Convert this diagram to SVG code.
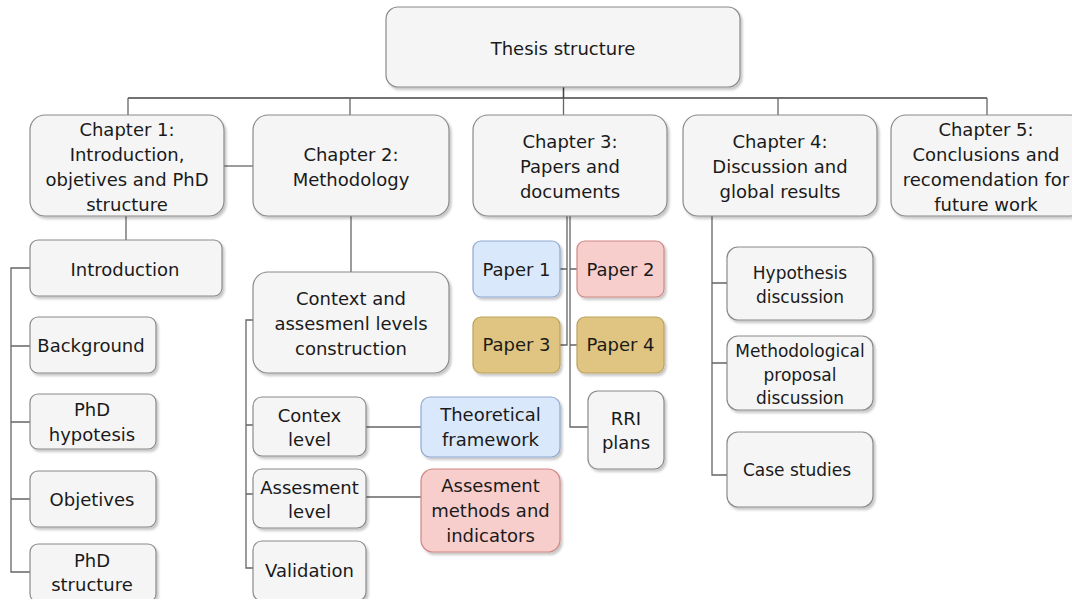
<svg xmlns="http://www.w3.org/2000/svg" width="1072" height="599" viewBox="0 0 1072 599">
  <defs>
    <filter id="shadow" x="-10%" y="-10%" width="130%" height="130%">
      <feDropShadow dx="2" dy="2.5" stdDeviation="1.2" flood-color="#000" flood-opacity="0.22"/>
    </filter>
    <style>
      .box { fill: #f5f5f5; stroke: #8a8a8a; stroke-width: 1.2; filter: url(#shadow); }
      .blue { fill: #dae8fc; stroke: #8fa9d2; stroke-width: 1.2; filter: url(#shadow); }
      .pink { fill: #f8cecc; stroke: #cf8683; stroke-width: 1.2; filter: url(#shadow); }
      .tan { fill: #dfc581; stroke: #bba15b; stroke-width: 1.2; filter: url(#shadow); }
      text { font-family: "DejaVu Sans", Verdana, sans-serif; font-size: 18px; fill: #1a1a1a; text-anchor: middle; }
      .sm { font-size: 17px; }
      .wire { fill: none; stroke: #666; stroke-width: 1.3; }
      .bus { fill: none; stroke: #444; stroke-width: 1.5; }
    </style>
  </defs>

  <rect width="1072" height="599" fill="#ffffff"/>

  <!-- connectors -->
  <g id="connectors">
    <!-- root to chapters -->
    <path class="bus" d="M563.5 87 V98 M128 98 H987"/>
    <path class="wire" d="M128 98 V115 M350 98 V115 M563.5 98 V115 M778 98 V115 M987 98 V115"/>
    <!-- chapter 1 to chapter 2 -->
    <path class="wire" d="M224 166 H253"/>
    <!-- chapter 1 children -->
    <path class="wire" d="M126 216 V240"/>
    <path class="wire" d="M30 268 H11 V572 H30 M11 346 H30 M11 422 H30 M11 499 H30"/>
    <!-- chapter 2 children -->
    <path class="wire" d="M351 216 V272"/>
    <path class="wire" d="M253 320 H246 V568 H253 M246 425 H253 M246 494 H253"/>
    <path class="wire" d="M366 427 H421 M366 497 H421"/>
    <!-- chapter 3 children -->
    <path class="wire" d="M567 216 V345 H560 M567 269 H560"/>
    <path class="wire" d="M570 216 V427 H588 M570 269 H577 M570 345 H577"/>
    <!-- chapter 4 children -->
    <path class="wire" d="M712 216 V475 H727 M712 283 H727 M712 363 H727"/>
  </g>

  <!-- root -->
  <g id="thesis">
    <rect class="box" x="386" y="7" width="354" height="80" rx="12"/>
    <text x="563" y="54.5">Thesis structure</text>
  </g>

  <!-- chapters -->
  <g id="chapter1">
    <rect class="box" x="30" y="115" width="194" height="101" rx="15"/>
    <text x="127" y="135.5">Chapter 1:</text>
    <text x="127" y="160.5">Introduction,</text>
    <text x="127" y="185.5">objetives and PhD</text>
    <text x="127" y="210.5">structure</text>
  </g>
  <g id="chapter2">
    <rect class="box" x="253" y="115" width="196" height="101" rx="15"/>
    <text x="351" y="160.5">Chapter 2:</text>
    <text x="351" y="186">Methodology</text>
  </g>
  <g id="chapter3">
    <rect class="box" x="473" y="115" width="194" height="101" rx="15"/>
    <text x="570" y="147.5">Chapter 3:</text>
    <text x="570" y="172.5">Papers and</text>
    <text x="570" y="197.5">documents</text>
  </g>
  <g id="chapter4">
    <rect class="box" x="683" y="115" width="194" height="101" rx="15"/>
    <text x="780" y="147.5">Chapter 4:</text>
    <text x="780" y="172.5">Discussion and</text>
    <text x="780" y="197.5">global results</text>
  </g>
  <g id="chapter5">
    <rect class="box" x="891" y="115" width="194" height="101" rx="15"/>
    <text x="986" y="135.5">Chapter 5:</text>
    <text x="986" y="160.5">Conclusions and</text>
    <text x="986" y="185.5">recomendation for</text>
    <text x="986" y="210.5">future work</text>
  </g>

  <!-- chapter 1 sections -->
  <g id="introduction">
    <rect class="box" x="30" y="240" width="192" height="56" rx="8"/>
    <text x="125" y="275.5">Introduction</text>
  </g>
  <g id="background">
    <rect class="box" x="30" y="317" width="126" height="56" rx="8"/>
    <text x="91" y="352">Background</text>
  </g>
  <g id="phd-hypotesis">
    <rect class="box" x="30" y="394" width="126" height="55" rx="8"/>
    <text x="92" y="416">PhD</text>
    <text x="92" y="441">hypotesis</text>
  </g>
  <g id="objetives">
    <rect class="box" x="30" y="471" width="126" height="56" rx="8"/>
    <text x="92" y="505.5">Objetives</text>
  </g>
  <g id="phd-structure">
    <rect class="box" x="30" y="544" width="126" height="58" rx="8"/>
    <text x="92" y="567">PhD</text>
    <text x="92" y="591">structure</text>
  </g>

  <!-- chapter 2 sections -->
  <g id="levels-construction">
    <rect class="box" x="253" y="272" width="196" height="101" rx="15"/>
    <text x="351" y="305">Context and</text>
    <text x="351" y="329.5">assesmenl levels</text>
    <text x="351" y="354.5">construction</text>
  </g>
  <g id="contex-level">
    <rect class="box" x="253" y="397" width="113" height="59" rx="9"/>
    <text x="309.5" y="422">Contex</text>
    <text x="309.5" y="446">level</text>
  </g>
  <g id="assesment-level">
    <rect class="box" x="253" y="469" width="113" height="59" rx="9"/>
    <text x="309.5" y="493.5">Assesment</text>
    <text x="309.5" y="517.5">level</text>
  </g>
  <g id="validation">
    <rect class="box" x="253" y="541" width="113" height="60" rx="9"/>
    <text x="309.5" y="577">Validation</text>
  </g>
  <g id="theoretical-framework">
    <rect class="blue" x="421" y="397" width="139" height="60" rx="9"/>
    <text x="490.5" y="421">Theoretical</text>
    <text x="490.5" y="446">framework</text>
  </g>
  <g id="assesment-methods">
    <rect class="pink" x="421" y="469" width="139" height="83" rx="12"/>
    <text x="490.5" y="492">Assesment</text>
    <text x="490.5" y="517">methods and</text>
    <text x="490.5" y="541.5">indicators</text>
  </g>

  <!-- chapter 3 documents -->
  <g id="paper1">
    <rect class="blue" x="473" y="241" width="87" height="56" rx="8"/>
    <text x="516.5" y="275.5">Paper 1</text>
  </g>
  <g id="paper2">
    <rect class="pink" x="577" y="241" width="87" height="56" rx="8"/>
    <text x="620.5" y="275.5">Paper 2</text>
  </g>
  <g id="paper3">
    <rect class="tan" x="473" y="317" width="87" height="56" rx="8"/>
    <text x="516.5" y="351">Paper 3</text>
  </g>
  <g id="paper4">
    <rect class="tan" x="577" y="317" width="87" height="56" rx="8"/>
    <text x="620.5" y="351">Paper 4</text>
  </g>
  <g id="rri-plans">
    <rect class="box" x="588" y="391" width="76" height="78" rx="10"/>
    <text x="626" y="424.5">RRI</text>
    <text x="626" y="449">plans</text>
  </g>

  <!-- chapter 4 sections -->
  <g id="hypothesis-discussion">
    <rect class="box" x="727" y="247" width="146" height="73" rx="11"/>
    <text class="sm" x="800" y="278.5">Hypothesis</text>
    <text class="sm" x="800" y="302.5">discussion</text>
  </g>
  <g id="methodological-discussion">
    <rect class="box" x="727" y="336" width="146" height="74" rx="11"/>
    <text class="sm" x="800" y="357">Methodological</text>
    <text class="sm" x="800" y="380.5">proposal</text>
    <text class="sm" x="800" y="404">discussion</text>
  </g>
  <g id="case-studies">
    <rect class="box" x="727" y="432" width="146" height="75" rx="11"/>
    <text class="sm" x="797" y="475.5">Case studies</text>
  </g>
</svg>
